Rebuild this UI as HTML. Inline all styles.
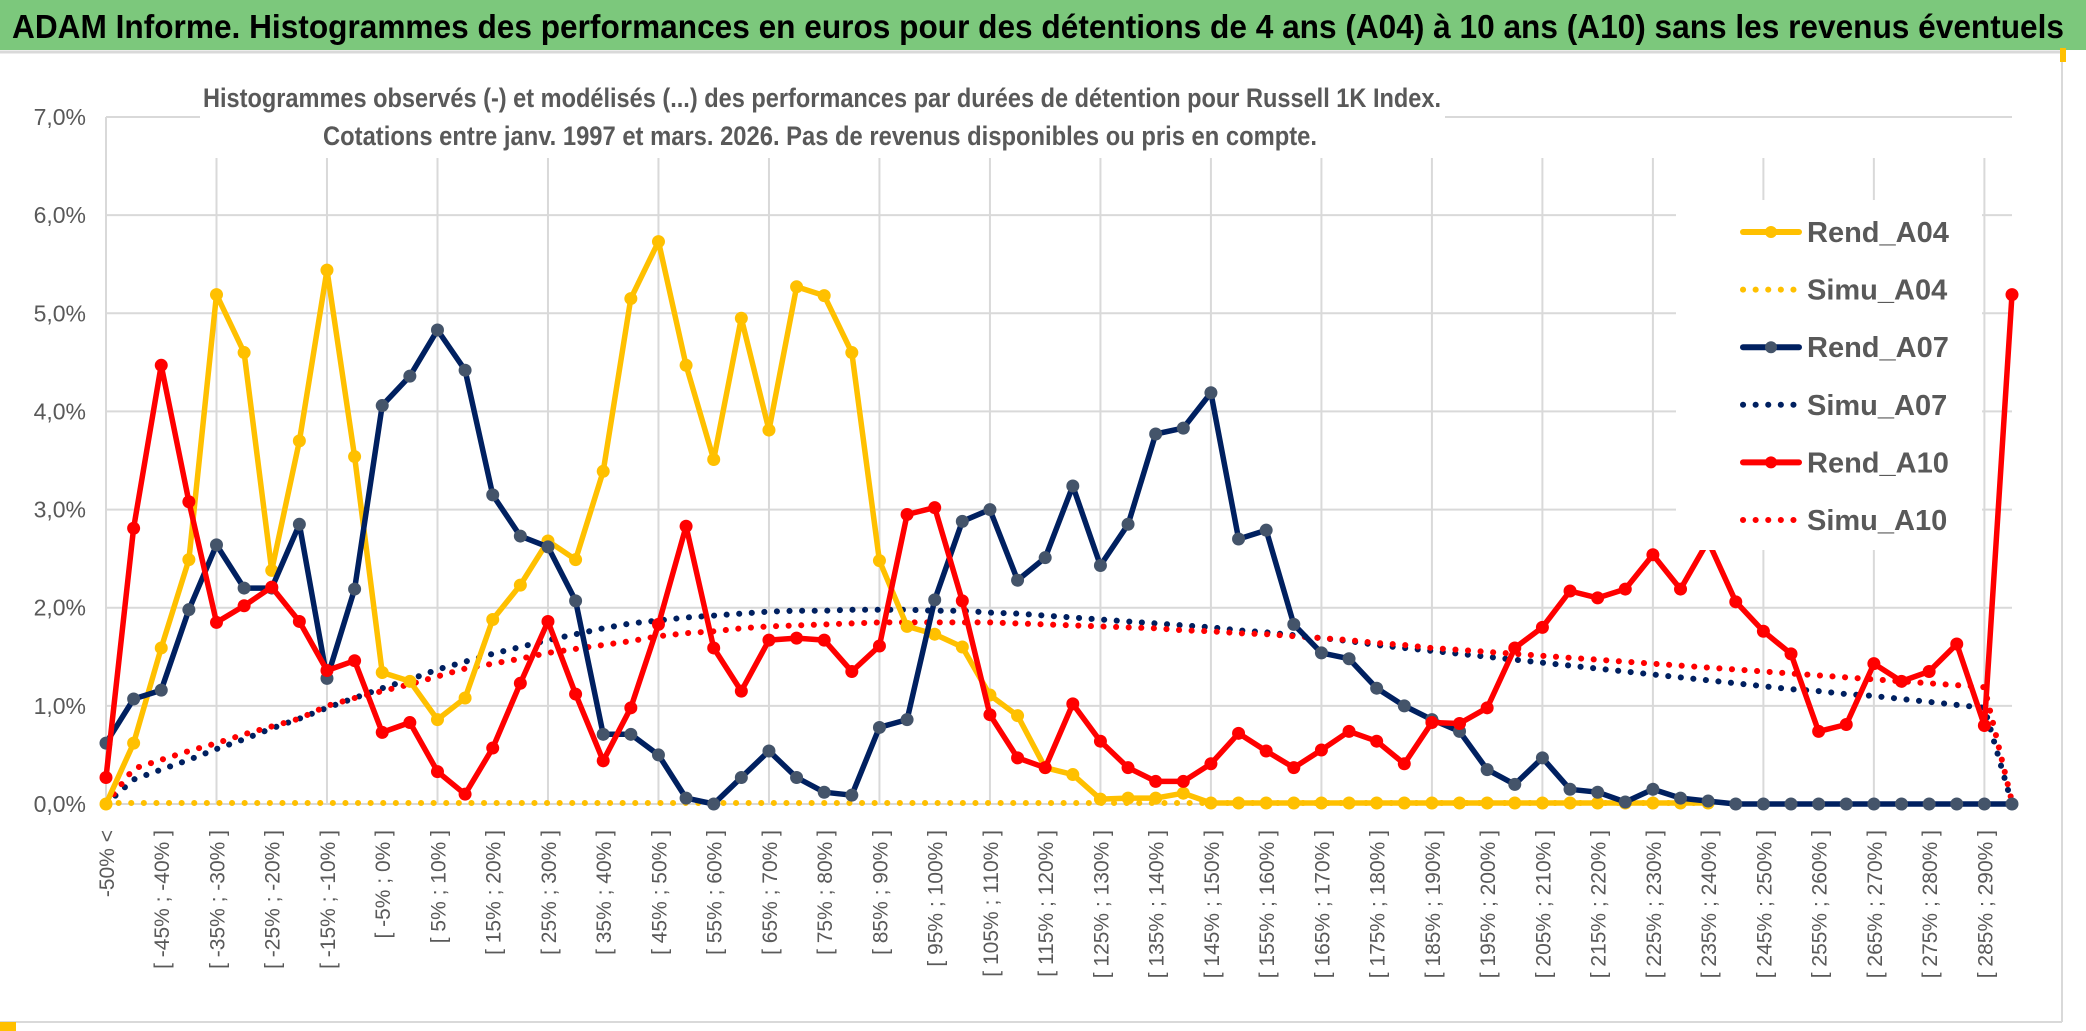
<!DOCTYPE html>
<html><head><meta charset="utf-8"><style>
html,body{margin:0;padding:0;background:#fff;}
svg{display:block;font-family:"Liberation Sans Narrow","Liberation Sans",sans-serif;}
</style></head><body>
<svg id="chart" width="2086" height="1031" viewBox="0 0 2086 1031" xmlns="http://www.w3.org/2000/svg">
<rect x="0" y="0" width="2086" height="1031" fill="#fff"/>
<rect x="0" y="0" width="2086" height="50" fill="#7cc87c"/>
<line x1="0" y1="52" x2="2062" y2="52" stroke="#d9d9d9" stroke-width="3"/>
<text x="12" y="38" font-size="33" font-weight="bold" fill="#000" textLength="2052" lengthAdjust="spacingAndGlyphs">ADAM Informe. Histogrammes des performances en euros pour des détentions de 4 ans (A04) à 10 ans (A10) sans les revenus éventuels</text>
<line x1="2062" y1="52" x2="2062" y2="1022" stroke="#d9d9d9" stroke-width="2"/>
<line x1="0" y1="1022" x2="2062" y2="1022" stroke="#d9d9d9" stroke-width="2"/>
<rect x="0" y="1022" width="16" height="9" fill="#ffc000"/>
<rect x="2060" y="48" width="6" height="14" fill="#ffc000"/>
<g id="grid"></g>
<rect x="200" y="70" width="1245" height="88" fill="#fff"/>
<text x="822" y="107" font-size="27" font-weight="bold" fill="#595959" text-anchor="middle" textLength="1238" lengthAdjust="spacingAndGlyphs">Histogrammes observés (-) et modélisés (...) des performances par durées de détention pour Russell 1K Index.</text>
<text x="820" y="145" font-size="27" font-weight="bold" fill="#595959" text-anchor="middle" textLength="994" lengthAdjust="spacingAndGlyphs">Cotations entre janv. 1997 et mars. 2026. Pas de revenus disponibles ou pris en compte.</text>
<g id="axes"></g>
<g id="series"></g>
<rect x="1676" y="200" width="306" height="350" fill="#fff"/>
<g id="legend"></g>
</svg>
<script>
const categories = ["-50% <"];
for (let k = 1; k <= 69; k++) { categories.push("[ " + (-55 + 5*k) + "% ; " + (-50 + 5*k) + "% ]"); }
const yTicks = [0,1,2,3,4,5,6,7];
const yTickLabels = ["0,0%","1,0%","2,0%","3,0%","4,0%","5,0%","6,0%","7,0%"];
const rendA04 = [0,0.62,1.59,2.49,5.19,4.6,2.38,3.7,5.44,3.54,1.34,1.25,0.86,1.08,1.88,2.23,2.68,2.49,3.39,5.15,5.73,4.47,3.51,4.95,3.81,5.27,5.18,4.6,2.48,1.81,1.73,1.6,1.11,0.9,0.37,0.3,0.05,0.06,0.06,0.11,0.01,0.01,0.01,0.01,0.01,0.01,0.01,0.01,0.01,0.01,0.01,0.01,0.01,0.01,0.01,0.01,0.01,0.01,0.01,null,null,null,null,null,null,null,null,null,null,null];
const simuA04 = [0.01,0.01,0.01,0.01,0.01,0.01,0.01,0.01,0.01,0.01,0.01,0.01,0.01,0.01,0.01,0.01,0.01,0.01,0.01,0.01,0.01,0.01,0.01,0.01,0.01,0.01,0.01,0.01,0.01,0.01,0.01,0.01,0.01,0.01,0.01,0.01,0.01,0.01,0.01,0.01,0.01,0.01,0.01,0.01,0.01,0.01,0.01,0.01,0.01,0.01,0.01,0.01,0.01,0.01,0.01,0.01,0.01,0.01,0.01,null,null,null,null,null,null,null,null,null,null,null];
const rendA07 = [0.62,1.07,1.16,1.98,2.64,2.2,2.2,2.85,1.28,2.19,4.06,4.36,4.83,4.42,3.15,2.73,2.62,2.07,0.71,0.71,0.5,0.06,0,0.27,0.54,0.27,0.12,0.09,0.78,0.86,2.08,2.88,3.0,2.28,2.51,3.24,2.43,2.85,3.77,3.83,4.19,2.7,2.79,1.83,1.54,1.48,1.18,1.0,0.86,0.74,0.35,0.2,0.47,0.15,0.12,0.02,0.15,0.06,0.03,0,0,0,0,0,0,0,0,0,0,0];
const simuA07 = [0,0.25,0.35,0.45,0.56,0.66,0.77,0.87,0.98,1.08,1.18,1.27,1.37,1.45,1.53,1.6,1.67,1.73,1.79,1.84,1.87,1.9,1.92,1.94,1.96,1.97,1.97,1.98,1.98,1.98,1.97,1.97,1.95,1.94,1.92,1.9,1.88,1.86,1.84,1.82,1.8,1.77,1.75,1.72,1.69,1.66,1.62,1.59,1.56,1.53,1.5,1.47,1.44,1.41,1.38,1.35,1.32,1.29,1.26,1.23,1.2,1.17,1.15,1.12,1.1,1.07,1.04,1.01,0.98,0];
const rendA10 = [0.27,2.81,4.47,3.08,1.85,2.02,2.21,1.86,1.36,1.46,0.73,0.83,0.33,0.1,0.57,1.23,1.86,1.12,0.44,0.98,1.83,2.83,1.59,1.15,1.67,1.69,1.67,1.35,1.61,2.95,3.02,2.07,0.91,0.47,0.37,1.02,0.64,0.37,0.23,0.23,0.41,0.72,0.54,0.37,0.55,0.74,0.64,0.41,0.83,0.82,0.98,1.59,1.8,2.17,2.1,2.19,2.54,2.19,2.68,2.06,1.76,1.53,0.74,0.81,1.43,1.25,1.35,1.63,0.8,5.19];
const simuA10 = [0,0.36,0.45,0.54,0.62,0.71,0.79,0.87,1.0,1.08,1.15,1.22,1.3,1.38,1.43,1.48,1.54,1.58,1.62,1.66,1.71,1.74,1.76,1.79,1.81,1.82,1.83,1.84,1.85,1.85,1.85,1.85,1.85,1.84,1.83,1.82,1.81,1.8,1.79,1.77,1.76,1.74,1.73,1.71,1.69,1.67,1.64,1.62,1.59,1.57,1.55,1.53,1.51,1.49,1.47,1.45,1.43,1.41,1.39,1.37,1.35,1.33,1.31,1.29,1.27,1.25,1.23,1.21,1.19,0.02];

const NS = "http://www.w3.org/2000/svg";
const X0 = 106, X1 = 2012, Y0 = 804, Y7 = 117;
const xScale = i => X0 + (X1 - X0) * i / (categories.length - 1);
const yScale = v => Y0 - (Y0 - Y7) * v / 7;
function mk(tag, attrs, parent) {
  const e = document.createElementNS(NS, tag);
  for (const k in attrs) e.setAttribute(k, attrs[k]);
  parent.appendChild(e);
  return e;
}
const grid = document.getElementById("grid");
yTicks.forEach((t, j) => {
  const l = mk("line", {x1: X0, x2: X1, y1: yScale(t), y2: yScale(t), stroke: "#d9d9d9", "stroke-width": 2}, grid);
  
  
});
for (let i = 0; i < categories.length; i += 4) {
  const l = mk("line", {x1: xScale(i), x2: xScale(i), y1: i === 0 ? Y7 : 158, y2: Y0, stroke: "#d9d9d9", "stroke-width": 2}, grid);
  
  
}
const axes = document.getElementById("axes");
yTicks.forEach((t, j) => {
  const tx = mk("text", {x: 86, y: yScale(t) + 8, "font-size": 23, fill: "#595959", "text-anchor": "end"}, axes);
  tx.textContent = yTickLabels[j];
  
  
});
categories.forEach((c, i) => {
  if (i % 2 !== 0) return;
  const x = xScale(i) + 8;
  const tx = mk("text", {x: x, y: 830, "font-size": 21, fill: "#595959", "text-anchor": "end", "font-family": "'Liberation Sans',sans-serif", transform: "rotate(-90 " + x + " 830)"}, axes);
  tx.textContent = c;
  
  
});
const series = document.getElementById("series");
function drawSeries(data, color, markerColor, dotted, name) {
  const g = mk("g", {}, series);
  
  
  let d = "", pen = false;
  data.forEach((v, i) => {
    if (v === null) { pen = false; return; }
    d += (pen ? "L" : "M") + xScale(i).toFixed(1) + " " + yScale(v).toFixed(1) + " ";
    pen = true;
  });
  const p = mk("path", {d: d, fill: "none", stroke: color, "stroke-width": dotted ? 6 : 5.5, "stroke-linejoin": "round", "stroke-linecap": "round"}, g);
  if (dotted) p.setAttribute("stroke-dasharray", "0.1 12.5");
  
  
  if (!dotted) {
    data.forEach((v, i) => {
      if (v === null) return;
      const c = mk("circle", {cx: xScale(i), cy: yScale(v), r: 6.5, fill: markerColor}, g);
      
      
    });
  }
}
drawSeries(simuA04, "#ffc000", "#ffc000", true, "simu-a04");
drawSeries(simuA07, "#002060", "#002060", true, "simu-a07");
drawSeries(simuA10, "#ff0000", "#ff0000", true, "simu-a10");
drawSeries(rendA04, "#ffc000", "#ffc000", false, "rend-a04");
drawSeries(rendA07, "#002060", "#44546a", false, "rend-a07");
drawSeries(rendA10, "#ff0000", "#ff0000", false, "rend-a10");

const legendNames = ["Rend_A04","Simu_A04","Rend_A07","Simu_A07","Rend_A10","Simu_A10"];
const legendColors = ["#ffc000","#ffc000","#002060","#002060","#ff0000","#ff0000"];
const legendMarkers = ["#ffc000",null,"#44546a",null,"#ff0000",null];
const lg = document.getElementById("legend");
legendNames.forEach((n, j) => {
  const y = 232 + j * 57.6;
  const g = mk("g", {}, lg);
  
  
  const ln = mk("line", {x1: 1743, x2: 1799, y1: y, y2: y, stroke: legendColors[j], "stroke-width": legendMarkers[j] ? 6 : 6, "stroke-linecap": "round"}, g);
  if (!legendMarkers[j]) ln.setAttribute("stroke-dasharray", "0.1 12.5");
  if (legendMarkers[j]) mk("circle", {cx: 1771, cy: y, r: 6, fill: legendMarkers[j]}, g);
  const t = mk("text", {x: 1807, y: y + 10, "font-size": 29, fill: "#595959", "font-weight": "bold"}, g);
  t.textContent = n;
});
</script>
</body></html>
